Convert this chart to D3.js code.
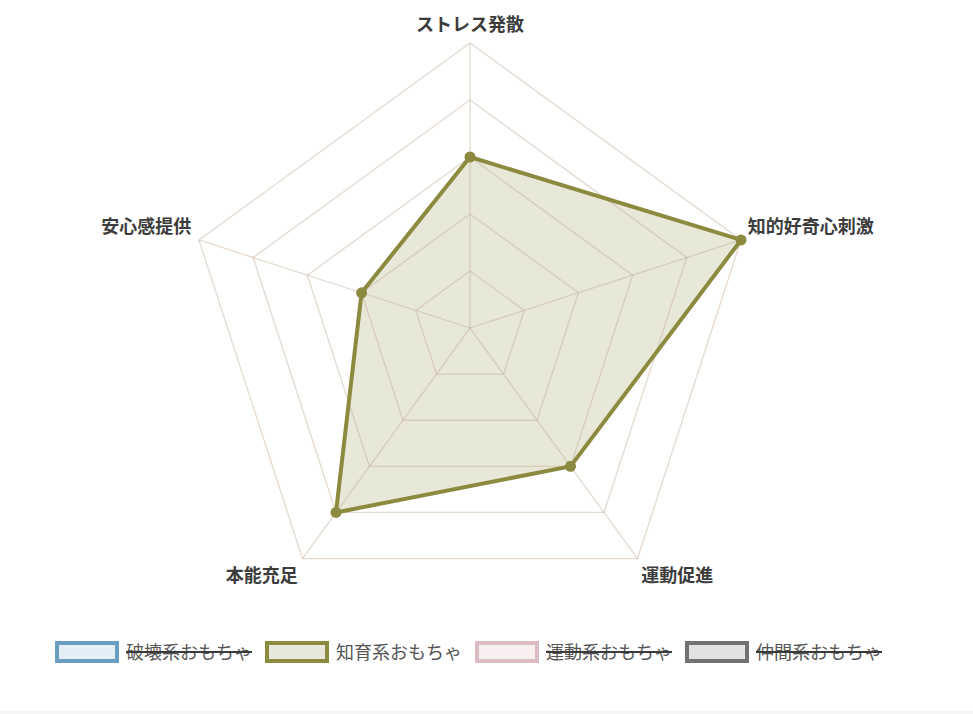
<!DOCTYPE html>
<html lang="ja">
<head>
<meta charset="UTF-8">
<title>おもちゃ比較レーダー</title>
<script src="https://d3js.org/d3.v7.min.js"></script>
<style>
    html, body { margin: 0; padding: 0; background: #fff; }
    svg { display: block; }
    text { font-family: "Noto Sans CJK JP", "Noto Sans", sans-serif; }
</style>
</head>
<body>
<svg id="chart"></svg>
<script>
    // axis labels, clockwise from the top
    const axes = ["ストレス発散", "知的好奇心刺激", "運動促進", "本能充足", "安心感提供"];
    // legend entries
    const seriesNames = ["破壊系おもちゃ", "知育系おもちゃ", "運動系おもちゃ", "仲間系おもちゃ"];
    const seriesHidden = [true, false, true, true];
    // the only visible series
    const chiikuValues = [3, 5, 3, 4, 2];
    const maxValue = 5;
    const tickValues = [1, 2, 3, 4, 5];

    const width = 973, height = 714;
    const cx = 470, cy = 328, radius = 285;

    const borderColors = ["#6a9ec1", "#8b8a3e", "#dcbcc2", "#727272"];
    const fillColors = ["#e3eef6", "#e8e8da", "#f8f0f0", "#e2e2e2"];

    const svg = d3.select("#chart").attr("width", width).attr("height", height);

    svg.append("rect").attr("x", 0).attr("y", 711).attr("width", width).attr("height", 3).attr("fill", "#f5f5f5");

    const r = d3.scaleLinear().domain([0, maxValue]).range([0, radius]);
    const angle = d3.scaleLinear().domain([0, axes.length]).range([-Math.PI / 2, 1.5 * Math.PI]);

    const pt = (i, v) => [cx + r(v) * Math.cos(angle(i)), cy + r(v) * Math.sin(angle(i))];

    const g = svg.append("g");

    // data fill first, grid on top shows through like in the original
    const chiikuPts = chiikuValues.map((v, i) => pt(i, v));
    const line = d3.line().curve(d3.curveLinearClosed);

    g.append("path")
        .attr("d", line(chiikuPts))
        .attr("fill", "rgba(139,138,62,0.2)")
        .attr("stroke", "none");

    // grid rings
    g.selectAll(".ring")
        .data(tickValues)
        .enter()
        .append("path")
        .attr("class", "ring")
        .attr("d", t => line(axes.map((a, i) => pt(i, t))))
        .attr("fill", "none")
        .attr("stroke", "rgba(190,165,140,0.42)")
        .attr("stroke-width", 1.3);

    // spokes
    g.selectAll(".spoke")
        .data(axes)
        .enter()
        .append("line")
        .attr("class", "spoke")
        .attr("x1", cx).attr("y1", cy)
        .attr("x2", (d, i) => pt(i, maxValue)[0])
        .attr("y2", (d, i) => pt(i, maxValue)[1])
        .attr("stroke", "rgba(190,165,140,0.42)")
        .attr("stroke-width", 1.3);

    // data outline and points
    g.append("path")
        .attr("d", line(chiikuPts))
        .attr("fill", "none")
        .attr("stroke", borderColors[1])
        .attr("stroke-width", 4)
        .attr("stroke-linejoin", "round");

    g.selectAll(".pt")
        .data(chiikuPts)
        .enter()
        .append("circle")
        .attr("cx", d => d[0])
        .attr("cy", d => d[1])
        .attr("r", 5.5)
        .attr("fill", borderColors[1]);

    // point labels
    const labelR = radius + 8;
    g.selectAll(".plabel")
        .data(axes)
        .enter()
        .append("text")
        .attr("class", "plabel")
        .attr("x", (d, i) => cx + labelR * Math.cos(angle(i)) - (Math.cos(angle(i)) > 0.01 ? 1 : 0))
        .attr("y", (d, i) => {
            const y = cy + labelR * Math.sin(angle(i));
            return Math.sin(angle(i)) > 0 ? y + 8.5 : y - 12;
        })
        .attr("text-anchor", (d, i) => {
            const c = Math.cos(angle(i));
            return Math.abs(c) < 0.01 ? "middle" : (c > 0 ? "start" : "end");
        })
        .attr("dominant-baseline", "central")
        .attr("font-size", "18px")
        .attr("font-weight", "bold")
        .attr("fill", "#3c3c3c")
        .text(d => d);

    // legend
    const itemW = 210;
    const legend = svg.append("g").attr("transform", "translate(55,641)");
    const item = legend.selectAll(".item")
        .data(seriesNames)
        .enter()
        .append("g")
        .attr("transform", (d, i) => `translate(${i * itemW},0)`);

    item.append("rect")
        .attr("x", 2).attr("y", 2)
        .attr("width", 60).attr("height", 18)
        .attr("fill", (d, i) => fillColors[i])
        .attr("stroke", (d, i) => borderColors[i])
        .attr("stroke-width", 4);

    item.append("text")
        .attr("x", 71)
        .attr("y", 10)
        .attr("dominant-baseline", "central")
        .attr("font-size", "18px")
        .attr("fill", "#555")
        .text(d => d);

    item.filter((d, i) => seriesHidden[i])
        .append("line")
        .attr("x1", 71)
        .attr("x2", function () {
            return 71 + this.parentNode.querySelector("text").getComputedTextLength();
        })
        .attr("y1", 11).attr("y2", 11)
        .attr("stroke", "#3a3a3a")
        .attr("stroke-width", 2);
</script>
</body>
</html>
